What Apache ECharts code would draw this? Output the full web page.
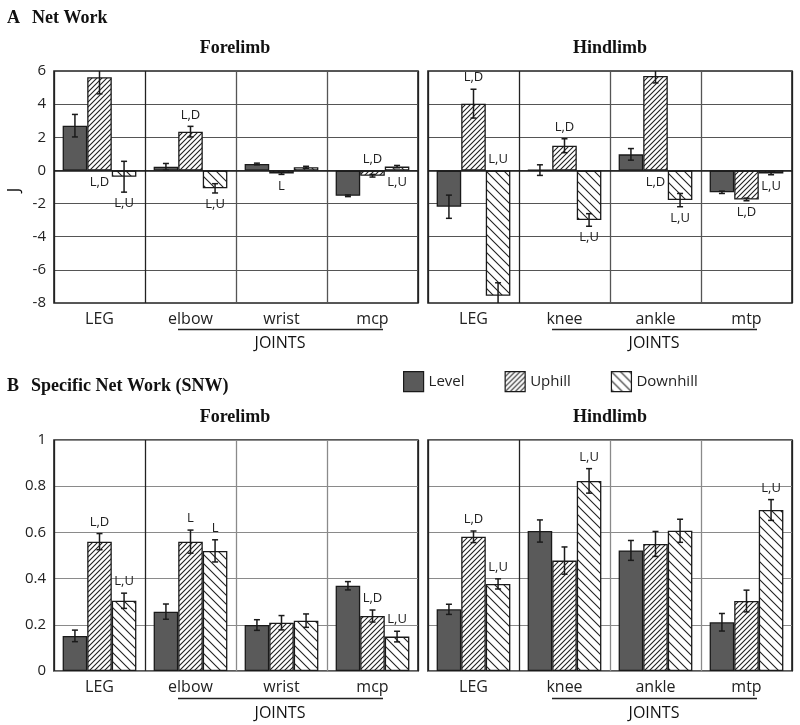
<!DOCTYPE html>
<html><head><meta charset="utf-8">
<script src="https://cdn.jsdelivr.net/npm/echarts@6/dist/echarts.min.js"></script>
<style>html,body{margin:0;padding:0;background:#fff}#c{width:800px;height:725px}</style>
</head><body><div id="c"></div>
<script>
// ---------- DATA ----------
const seriesNames = ['Level', 'Uphill', 'Downhill'];
const foreCategories = ['LEG', 'elbow', 'wrist', 'mcp'];
const hindCategories = ['LEG', 'knee', 'ankle', 'mtp'];
const netWorkTicks = [-8, -6, -4, -2, 0, 2, 4, 6];
const snwTicks = [0, 0.2, 0.4, 0.6, 0.8, 1];
const netWorkUnit = 'J';

// A: Net Work (J)
const netForeLevel = [2.70, 0.22, 0.39, -1.53];
const netForeLevelErr = [0.68, 0.20, 0.05, 0.05];
const netForeUphill = [5.62, 2.34, -0.18, -0.32];
const netForeUphillErr = [1.00, 0.32, 0.06, 0.08];
const netForeDownhill = [-0.38, -1.08, 0.19, 0.23];
const netForeDownhillErr = [0.93, 0.28, 0.06, 0.07];

const netHindLevel = [-2.19, 0.02, 0.97, -1.32];
const netHindLevelErr = [0.70, 0.32, 0.35, 0.07];
const netHindUphill = [4.03, 1.49, 5.70, -1.75];
const netHindUphillErr = [0.87, 0.42, 0.42, 0.08];
const netHindDownhill = [-7.56, -2.99, -1.79, -0.18];
const netHindDownhillErr = [0.78, 0.38, 0.40, 0.08];

// B: Specific Net Work
const snwForeLevel = [0.152, 0.257, 0.199, 0.369];
const snwForeLevelErr = [0.025, 0.033, 0.023, 0.018];
const snwForeUphill = [0.560, 0.560, 0.209, 0.238];
const snwForeUphillErr = [0.035, 0.050, 0.031, 0.026];
const snwForeDownhill = [0.304, 0.520, 0.218, 0.149];
const snwForeDownhillErr = [0.033, 0.048, 0.029, 0.023];

const snwHindLevel = [0.267, 0.606, 0.522, 0.211];
const snwHindLevelErr = [0.022, 0.048, 0.043, 0.038];
const snwHindUphill = [0.581, 0.478, 0.550, 0.303];
const snwHindUphillErr = [0.025, 0.059, 0.054, 0.047];
const snwHindDownhill = [0.377, 0.823, 0.607, 0.697];
const snwHindDownhillErr = [0.022, 0.053, 0.050, 0.045];

// significance labels: [category index, series index, text, side]
const netForeLabels = [[0,1,'L,D','zero'],[0,2,'L,U','end'],[1,1,'L,D','end'],[1,2,'L,U','end'],[2,1,'L','end'],[3,1,'L,D','zero'],[3,2,'L,U','zero']];
const netHindLabels = [[0,1,'L,D','end'],[0,2,'L,U','zero'],[1,1,'L,D','end'],[1,2,'L,U','end'],[2,1,'L,D','zero'],[2,2,'L,U','end'],[3,1,'L,D','end'],[3,2,'L,U','end']];
const snwForeLabels = [[0,1,'L,D','end'],[0,2,'L,U','end'],[1,1,'L','end'],[1,2,'L','end'],[3,1,'L,D','end'],[3,2,'L,U','end']];
const snwHindLabels = [[0,1,'L,D','end'],[0,2,'L,U','end'],[1,2,'L,U','end'],[3,2,'L,U','end']];

// ---------- STYLE ----------
const SANS = '"Open Sans", "Noto Sans", sans-serif';
const SERIF = '"Liberation Serif", "DejaVu Serif", serif';
const INK = '#1a1a1a';
const CAT_GAP = 0.19;

function hatch(size, dir) {
  const c = document.createElement('canvas');
  c.width = c.height = size;
  const g = c.getContext('2d');
  g.fillStyle = '#fff'; g.fillRect(0, 0, size, size);
  g.strokeStyle = '#222'; g.lineWidth = 1.1;
  g.beginPath();
  if (dir > 0) {
    g.moveTo(-1, size + 1); g.lineTo(size + 1, -1);
    g.moveTo(-1, 1); g.lineTo(1, -1);
    g.moveTo(size - 1, size + 1); g.lineTo(size + 1, size - 1);
  } else {
    g.moveTo(-1, -1); g.lineTo(size + 1, size + 1);
    g.moveTo(size - 1, -1); g.lineTo(size + 1, 1);
    g.moveTo(-1, size - 1); g.lineTo(1, size + 1);
  }
  g.stroke();
  return c;
}
const fills = ['#5a5a5a', {image: hatch(5, 1), repeat: 'repeat'}, {image: hatch(9, -1), repeat: 'repeat'}];

const panels = [
  {cats: foreCategories, ticks: netWorkTicks, vals: [netForeLevel, netForeUphill, netForeDownhill], errs: [netForeLevelErr, netForeUphillErr, netForeDownhillErr], labels: netForeLabels, grid: [54, 71, 232], showY: true, minor: '#555', zero: true},
  {cats: hindCategories, ticks: netWorkTicks, vals: [netHindLevel, netHindUphill, netHindDownhill], errs: [netHindLevelErr, netHindUphillErr, netHindDownhillErr], labels: netHindLabels, grid: [428, 71, 232], showY: false, minor: '#555', zero: true},
  {cats: foreCategories, ticks: snwTicks, vals: [snwForeLevel, snwForeUphill, snwForeDownhill], errs: [snwForeLevelErr, snwForeUphillErr, snwForeDownhillErr], labels: snwForeLabels, grid: [54, 440, 231], showY: true, minor: '#8a8a8a', zero: false},
  {cats: hindCategories, ticks: snwTicks, vals: [snwHindLevel, snwHindUphill, snwHindDownhill], errs: [snwHindLevelErr, snwHindUphillErr, snwHindDownhillErr], labels: snwHindLabels, grid: [428, 440, 231], showY: false, minor: '#8a8a8a', zero: false}
];

function barX(api, c, s) {
  const band = api.size([1, 0])[0];
  const bw = band * (1 - CAT_GAP) / 3;
  const cx = api.coord([c, 0])[0];
  return cx - 1.5 * bw + (s + 0.5) * bw;
}

function errRender(params, api) {
  const c = api.value(0), v = api.value(1), e = api.value(2), s = api.value(3);
  const x = barX(api, c, s);
  const hi = api.coord([c, v + e])[1], lo = api.coord([c, v - e])[1];
  const cap = 3, st = {stroke: INK, lineWidth: 1.5};
  return {type: 'group', children: [
    {type: 'line', shape: {x1: x, y1: hi, x2: x, y2: lo}, style: st},
    {type: 'line', shape: {x1: x - cap, y1: hi, x2: x + cap, y2: hi}, style: st},
    {type: 'line', shape: {x1: x - cap, y1: lo, x2: x + cap, y2: lo}, style: st}
  ]};
}

function makeLabelRender(labels) {
  return function (params, api) {
    const lab = labels[params.dataIndex];
    const c = api.value(0), v = api.value(1), e = api.value(2), s = api.value(3);
    const x = barX(api, c, s);
    const gap = 5;
    let y, va;
    if (lab[3] === 'end') {
      if (v >= 0) { y = api.coord([c, v + e])[1] - gap; va = 'bottom'; }
      else { y = api.coord([c, v - e])[1] + gap; va = 'top'; }
    } else {
      const z = api.coord([c, 0])[1];
      if (v >= 0) { y = z + gap; va = 'top'; } else { y = z - gap; va = 'bottom'; }
    }
    return {type: 'text', style: {text: lab[2], x: x, y: y, align: 'center', verticalAlign: va, font: '13px ' + SANS, fill: '#222'}};
  };
}

const grids = [], xAxes = [], yAxes = [], series = [];
panels.forEach((p, i) => {
  grids.push({left: p.grid[0], top: p.grid[1], width: 364, height: p.grid[2], show: true, borderColor: '#222', borderWidth: 1.6, backgroundColor: 'transparent', outerBoundsMode: 'none', containLabel: false});
  xAxes.push({type: 'category', gridIndex: i, data: p.cats,
    axisLine: {show: false, onZero: false}, axisTick: {show: false},
    axisLabel: {fontSize: 16, color: '#222', margin: 8, fontFamily: SANS},
    splitLine: {show: true, interval: 0, lineStyle: {color: ['#222', '#222', p.minor, p.minor, '#222'], width: 1.3}}});
  const t = p.ticks;
  yAxes.push({type: 'value', gridIndex: i, min: t[0], max: t[t.length - 1], interval: t[1] - t[0],
    axisLine: {show: false}, axisTick: {show: false},
    axisLabel: {show: p.showY, fontSize: 15, color: '#222', margin: 8, fontFamily: SANS},
    splitLine: {show: true, lineStyle: {color: p.minor, width: 1}}});
  for (let s = 0; s < 3; s++) {
    const bar = {type: 'bar', name: seriesNames[s], xAxisIndex: i, yAxisIndex: i, data: p.vals[s],
      barGap: '0%', barCategoryGap: (CAT_GAP * 100) + '%',
      itemStyle: {color: fills[s], borderColor: INK, borderWidth: 1.3}};
    if (s === 0 && p.zero) {
      bar.markLine = {silent: true, symbol: ['none', 'none'], label: {show: false},
        lineStyle: {color: INK, width: 1.6, type: 'solid'}, data: [{yAxis: 0}]};
    }
    series.push(bar);
  }
  const errData = [];
  for (let s = 0; s < 3; s++) p.vals[s].forEach((v, c) => errData.push([c, v, p.errs[s][c], s]));
  series.push({type: 'custom', xAxisIndex: i, yAxisIndex: i, renderItem: errRender, clip: true, z: 5,
    encode: {x: 0, y: 1}, data: errData, silent: true});
  const labData = p.labels.map(l => [l[0], p.vals[l[1]][l[0]], p.errs[l[1]][l[0]], l[1]]);
  series.push({type: 'custom', xAxisIndex: i, yAxisIndex: i, renderItem: makeLabelRender(p.labels), z: 6,
    encode: {x: 0, y: 1}, data: labData, silent: true});
});

function txt(text, x, y, font, align) {
  return {type: 'text', x: x, y: y, style: {text: text, font: font, fill: '#111', align: align || 'left', verticalAlign: 'middle'}};
}
function hline(x1, x2, y) {
  return {type: 'line', shape: {x1: x1, y1: y, x2: x2, y2: y}, style: {stroke: '#222', lineWidth: 1.5}};
}
const TITLE = 'bold 18px ' + SERIF;
const unitLabel = txt(netWorkUnit, 14, 190, '17px ' + SANS, 'center');
unitLabel.rotation = Math.PI / 2;
const graphic = [
  txt('A', 7, 18, TITLE), txt('Net Work', 32, 18, TITLE),
  txt('Forelimb', 235, 48, TITLE, 'center'), txt('Hindlimb', 610, 48, TITLE, 'center'),
  unitLabel,
  hline(178, 383, 329.5), hline(552, 757, 329.5),
  txt('JOINTS', 280, 343, '16px ' + SANS, 'center'), txt('JOINTS', 654, 343, '16px ' + SANS, 'center'),
  txt('B', 7, 386, TITLE), txt('Specific Net Work (SNW)', 31, 386, TITLE),
  txt('Forelimb', 235, 417, TITLE, 'center'), txt('Hindlimb', 610, 417, TITLE, 'center'),
  hline(178, 383, 698.5), hline(552, 757, 698.5),
  txt('JOINTS', 280, 713, '16px ' + SANS, 'center'), txt('JOINTS', 654, 713, '16px ' + SANS, 'center')
];

const chart = echarts.init(document.getElementById('c'), null, {renderer: 'canvas'});
chart.setOption({
  animation: false,
  backgroundColor: '#fff',
  legend: {data: seriesNames, left: 403, top: 371, padding: 0, itemWidth: 20, itemHeight: 20, itemGap: 40,
    icon: 'rect', selectedMode: false,
    itemStyle: {borderColor: INK, borderWidth: 1.2},
    textStyle: {fontSize: 15, color: '#222', fontFamily: SANS}},
  grid: grids, xAxis: xAxes, yAxis: yAxes, series: series, graphic: graphic
});
</script></body></html>
